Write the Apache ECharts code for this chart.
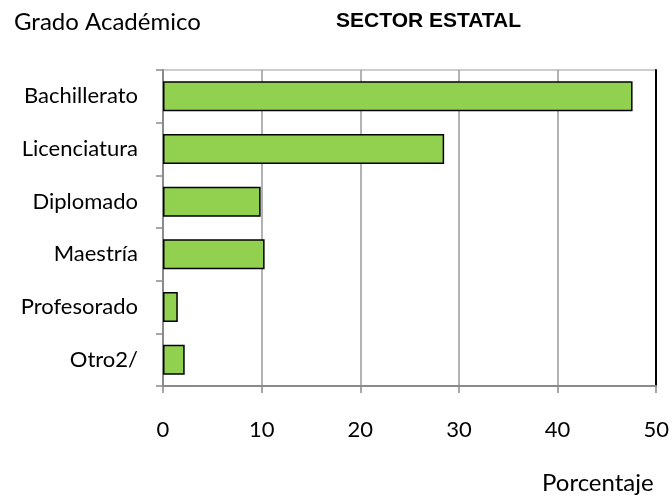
<!DOCTYPE html>
<html>
<head>
<meta charset="utf-8">
<script src="https://cdn.jsdelivr.net/npm/echarts@6/dist/echarts.min.js"></script>
<style>
  html, body { margin: 0; padding: 0; background: #fff; }
  #chart { width: 672px; height: 498px; }
</style>
</head>
<body>
<div id="chart"></div>
<script>
// grado académico - sector estatal
const categorias = ["Bachillerato", "Licenciatura", "Diplomado", "Maestría", "Profesorado", "Otro2/"];
const porcentajes = [47.6, 28.5, 9.9, 10.3, 1.5, 2.2];
const ticksX = [0, 10, 20, 30, 40, 50];

let myChart = echarts.init(document.getElementById("chart"));

let options = {
  animation: false,
  title: [
    {
      text: "Grado Académico",
      left: 9,
      top: 5,
      textStyle: { fontFamily: "Lato", fontWeight: "normal", fontSize: 24, color: "#000" },
    },
    {
      text: "SECTOR ESTATAL",
      left: 331,
      top: 6,
      textStyle: { fontFamily: "Liberation Sans", fontWeight: "bold", fontSize: 21, color: "#000" },
    },
    {
      text: "Porcentaje",
      left: 537,
      top: 466,
      textStyle: { fontFamily: "Lato", fontWeight: "normal", fontSize: 24, color: "#000" },
    },
  ],
  grid: {
    left: 163,
    right: 14,
    top: 70,
    bottom: 112,
    show: true,
    borderColor: "#9a9a9a",
    borderWidth: 1,
  },
  xAxis: {
    type: "value",
    min: ticksX[0],
    max: ticksX[ticksX.length - 1],
    interval: 10,
    axisLine: { show: true, lineStyle: { color: "#8a8a8a", width: 2 } },
    axisTick: { show: true, length: 7, lineStyle: { color: "#8a8a8a", width: 1.5 } },
    splitLine: { show: true, lineStyle: { color: "#9a9a9a", width: 1.5 } },
    axisLabel: {
      margin: 33,
      fontFamily: "Lato",
      fontSize: 22,
      color: "#000",
    },
  },
  yAxis: [
    {
      type: "category",
      data: categorias,
      inverse: true,
      axisLine: { show: true, lineStyle: { color: "#8a8a8a", width: 2 } },
      axisTick: { show: true, length: 7, lineStyle: { color: "#8a8a8a", width: 1.5 } },
      axisLabel: {
        margin: 25,
        fontFamily: "Lato",
        fontSize: 22,
        color: "#000",
      },
    },
    {
      type: "category",
      data: categorias,
      inverse: true,
      position: "right",
      axisLine: { show: true, lineStyle: { color: "#000", width: 2 } },
      axisTick: { show: false },
      axisLabel: { show: false },
    },
  ],
  series: [
    {
      name: "Sector estatal",
      type: "bar",
      data: porcentajes,
      barCategoryGap: "43%",
      itemStyle: {
        color: "#92d050",
        borderColor: "#000",
        borderWidth: 1.5,
      },
    },
  ],
};
myChart.setOption(options);
</script>
</body>
</html>
